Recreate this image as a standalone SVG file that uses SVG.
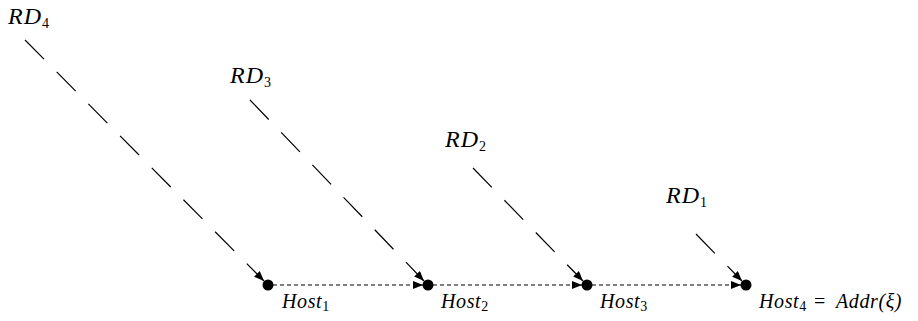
<svg xmlns="http://www.w3.org/2000/svg" width="918" height="321" viewBox="0 0 918 321">
<style>
.lbl{font-family:"Liberation Serif","DejaVu Serif",serif;font-style:italic;fill:#000}
.rd{font-size:24px;letter-spacing:1px}
.host{font-size:20px;letter-spacing:0.6px}
.sub{font-style:normal;font-size:14px;letter-spacing:0}
.long{stroke:#000;stroke-width:1.2;fill:none;stroke-dasharray:27 18}
.dot{stroke:#000;stroke-width:1.2;fill:none;stroke-dasharray:4 3}
.node{fill:#000}
</style>
<defs>
<marker id="ah" viewBox="0 0 10 8" refX="10" refY="4" markerWidth="10" markerHeight="8" markerUnits="userSpaceOnUse" orient="auto">
<path d="M0,0 L10,4 L0,8 Z" fill="#000"/>
</marker>
</defs>
<g id="connectors">
<path class="long" d="M25,40 L264,281" marker-end="url(#ah)"/>
<path class="long" d="M250,100 L424,281" marker-end="url(#ah)"/>
<path class="long" d="M473,168 L583,281" marker-end="url(#ah)"/>
<path class="long" d="M696,234 L742,281" marker-end="url(#ah)"/>
<path class="dot" d="M273,285 L423,285" marker-end="url(#ah)"/>
<path class="dot" d="M433,285 L582,285" marker-end="url(#ah)"/>
<path class="dot" d="M592,285 L741,285" marker-end="url(#ah)"/>
</g>
<g id="rd4"><text class="lbl rd" x="8" y="24">RD<tspan class="sub" dy="4">4</tspan></text></g>
<g id="rd3"><text class="lbl rd" x="230" y="83">RD<tspan class="sub" dy="4">3</tspan></text></g>
<g id="rd2"><text class="lbl rd" x="445" y="147">RD<tspan class="sub" dy="4">2</tspan></text></g>
<g id="rd1"><text class="lbl rd" x="666" y="203">RD<tspan class="sub" dy="4">1</tspan></text></g>
<g id="host1"><circle class="node" cx="268" cy="285" r="5.5"/><text class="lbl host" x="282" y="308">Host<tspan class="sub" dy="3">1</tspan></text></g>
<g id="host2"><circle class="node" cx="428" cy="285" r="5.5"/><text class="lbl host" x="441" y="308">Host<tspan class="sub" dy="3">2</tspan></text></g>
<g id="host3"><circle class="node" cx="587" cy="285" r="5.5"/><text class="lbl host" x="600" y="308">Host<tspan class="sub" dy="3">3</tspan></text></g>
<g id="host4"><circle class="node" cx="746" cy="285" r="5.5"/><text class="lbl host" x="759" y="308">Host<tspan class="sub" dy="3">4</tspan><tspan x="814" dy="-3" font-style="normal">=</tspan><tspan x="836">Addr(ξ)</tspan></text></g>
</svg>
